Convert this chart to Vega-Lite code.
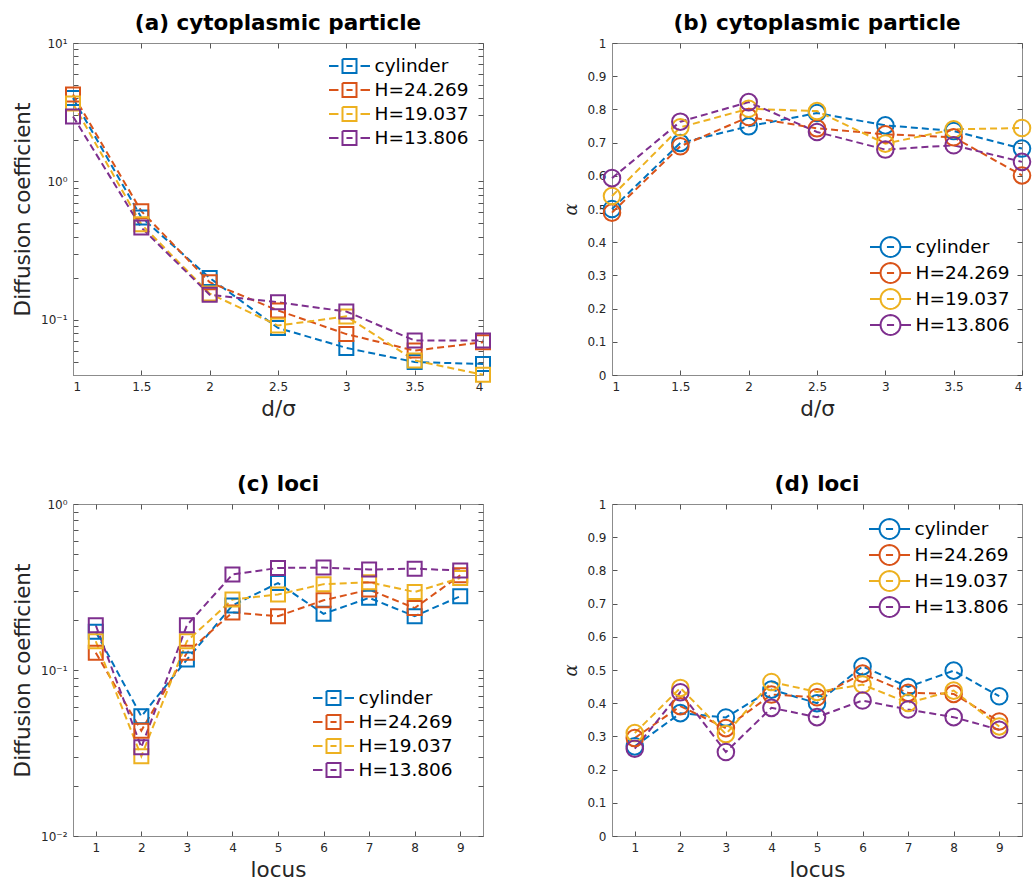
{
  "$schema": "https://vega.github.io/schema/vega-lite/v6.json",
  "padding": {"left": 12, "top": 12, "right": 0, "bottom": 0},
  "background": "white",
  "datasets": {
    "a": [
      {"x": 1, "series": "cylinder", "value": 4.0}, {"x": 1.5, "series": "cylinder", "value": 0.55}, {"x": 2, "series": "cylinder", "value": 0.201}, {"x": 2.5, "series": "cylinder", "value": 0.0875}, {"x": 3, "series": "cylinder", "value": 0.0628}, {"x": 3.5, "series": "cylinder", "value": 0.0496}, {"x": 4, "series": "cylinder", "value": 0.048},
      {"x": 1, "series": "H=24.269", "value": 4.25}, {"x": 1.5, "series": "H=24.269", "value": 0.61}, {"x": 2, "series": "H=24.269", "value": 0.187}, {"x": 2.5, "series": "H=24.269", "value": 0.117}, {"x": 3, "series": "H=24.269", "value": 0.079}, {"x": 3.5, "series": "H=24.269", "value": 0.06}, {"x": 4, "series": "H=24.269", "value": 0.069},
      {"x": 1, "series": "H=19.037", "value": 3.65}, {"x": 1.5, "series": "H=19.037", "value": 0.49}, {"x": 2, "series": "H=19.037", "value": 0.155}, {"x": 2.5, "series": "H=19.037", "value": 0.091}, {"x": 3, "series": "H=19.037", "value": 0.106}, {"x": 3.5, "series": "H=19.037", "value": 0.051}, {"x": 4, "series": "H=19.037", "value": 0.0402},
      {"x": 1, "series": "H=13.806", "value": 2.95}, {"x": 1.5, "series": "H=13.806", "value": 0.464}, {"x": 2, "series": "H=13.806", "value": 0.152}, {"x": 2.5, "series": "H=13.806", "value": 0.134}, {"x": 3, "series": "H=13.806", "value": 0.115}, {"x": 3.5, "series": "H=13.806", "value": 0.071}, {"x": 4, "series": "H=13.806", "value": 0.071}
    ],
    "b": [
      {"x": 1, "series": "cylinder", "value": 0.5}, {"x": 1.5, "series": "cylinder", "value": 0.699}, {"x": 2, "series": "cylinder", "value": 0.749}, {"x": 2.5, "series": "cylinder", "value": 0.789}, {"x": 3, "series": "cylinder", "value": 0.752}, {"x": 3.5, "series": "cylinder", "value": 0.735}, {"x": 4, "series": "cylinder", "value": 0.682},
      {"x": 1, "series": "H=24.269", "value": 0.489}, {"x": 1.5, "series": "H=24.269", "value": 0.689}, {"x": 2, "series": "H=24.269", "value": 0.777}, {"x": 2.5, "series": "H=24.269", "value": 0.743}, {"x": 3, "series": "H=24.269", "value": 0.725}, {"x": 3.5, "series": "H=24.269", "value": 0.716}, {"x": 4, "series": "H=24.269", "value": 0.601},
      {"x": 1, "series": "H=19.037", "value": 0.539}, {"x": 1.5, "series": "H=19.037", "value": 0.746}, {"x": 2, "series": "H=19.037", "value": 0.802}, {"x": 2.5, "series": "H=19.037", "value": 0.795}, {"x": 3, "series": "H=19.037", "value": 0.697}, {"x": 3.5, "series": "H=19.037", "value": 0.74}, {"x": 4, "series": "H=19.037", "value": 0.744},
      {"x": 1, "series": "H=13.806", "value": 0.593}, {"x": 1.5, "series": "H=13.806", "value": 0.763}, {"x": 2, "series": "H=13.806", "value": 0.822}, {"x": 2.5, "series": "H=13.806", "value": 0.732}, {"x": 3, "series": "H=13.806", "value": 0.679}, {"x": 3.5, "series": "H=13.806", "value": 0.692}, {"x": 4, "series": "H=13.806", "value": 0.642}
    ],
    "c": [
      {"x": 1, "series": "cylinder", "value": 0.17}, {"x": 2, "series": "cylinder", "value": 0.0526}, {"x": 3, "series": "cylinder", "value": 0.1155}, {"x": 4, "series": "cylinder", "value": 0.245}, {"x": 5, "series": "cylinder", "value": 0.334}, {"x": 6, "series": "cylinder", "value": 0.218}, {"x": 7, "series": "cylinder", "value": 0.272}, {"x": 8, "series": "cylinder", "value": 0.211}, {"x": 9, "series": "cylinder", "value": 0.278},
      {"x": 1, "series": "H=24.269", "value": 0.127}, {"x": 2, "series": "H=24.269", "value": 0.0431}, {"x": 3, "series": "H=24.269", "value": 0.127}, {"x": 4, "series": "H=24.269", "value": 0.222}, {"x": 5, "series": "H=24.269", "value": 0.211}, {"x": 6, "series": "H=24.269", "value": 0.263}, {"x": 7, "series": "H=24.269", "value": 0.305}, {"x": 8, "series": "H=24.269", "value": 0.236}, {"x": 9, "series": "H=24.269", "value": 0.372},
      {"x": 1, "series": "H=19.037", "value": 0.149}, {"x": 2, "series": "H=19.037", "value": 0.0302}, {"x": 3, "series": "H=19.037", "value": 0.149}, {"x": 4, "series": "H=19.037", "value": 0.266}, {"x": 5, "series": "H=19.037", "value": 0.285}, {"x": 6, "series": "H=19.037", "value": 0.329}, {"x": 7, "series": "H=19.037", "value": 0.338}, {"x": 8, "series": "H=19.037", "value": 0.295}, {"x": 9, "series": "H=19.037", "value": 0.358},
      {"x": 1, "series": "H=13.806", "value": 0.186}, {"x": 2, "series": "H=13.806", "value": 0.0342}, {"x": 3, "series": "H=13.806", "value": 0.186}, {"x": 4, "series": "H=13.806", "value": 0.376}, {"x": 5, "series": "H=13.806", "value": 0.412}, {"x": 6, "series": "H=13.806", "value": 0.414}, {"x": 7, "series": "H=13.806", "value": 0.403}, {"x": 8, "series": "H=13.806", "value": 0.408}, {"x": 9, "series": "H=13.806", "value": 0.397}
    ],
    "d": [
      {"x": 1, "series": "cylinder", "value": 0.27}, {"x": 2, "series": "cylinder", "value": 0.37}, {"x": 3, "series": "cylinder", "value": 0.357}, {"x": 4, "series": "cylinder", "value": 0.441}, {"x": 5, "series": "cylinder", "value": 0.4}, {"x": 6, "series": "cylinder", "value": 0.511}, {"x": 7, "series": "cylinder", "value": 0.449}, {"x": 8, "series": "cylinder", "value": 0.498}, {"x": 9, "series": "cylinder", "value": 0.421},
      {"x": 1, "series": "H=24.269", "value": 0.295}, {"x": 2, "series": "H=24.269", "value": 0.391}, {"x": 3, "series": "H=24.269", "value": 0.325}, {"x": 4, "series": "H=24.269", "value": 0.426}, {"x": 5, "series": "H=24.269", "value": 0.418}, {"x": 6, "series": "H=24.269", "value": 0.489}, {"x": 7, "series": "H=24.269", "value": 0.431}, {"x": 8, "series": "H=24.269", "value": 0.428}, {"x": 9, "series": "H=24.269", "value": 0.345},
      {"x": 1, "series": "H=19.037", "value": 0.31}, {"x": 2, "series": "H=19.037", "value": 0.446}, {"x": 3, "series": "H=19.037", "value": 0.307}, {"x": 4, "series": "H=19.037", "value": 0.464}, {"x": 5, "series": "H=19.037", "value": 0.434}, {"x": 6, "series": "H=19.037", "value": 0.456}, {"x": 7, "series": "H=19.037", "value": 0.401}, {"x": 8, "series": "H=19.037", "value": 0.438}, {"x": 9, "series": "H=19.037", "value": 0.33},
      {"x": 1, "series": "H=13.806", "value": 0.263}, {"x": 2, "series": "H=13.806", "value": 0.433}, {"x": 3, "series": "H=13.806", "value": 0.253}, {"x": 4, "series": "H=13.806", "value": 0.386}, {"x": 5, "series": "H=13.806", "value": 0.358}, {"x": 6, "series": "H=13.806", "value": 0.408}, {"x": 7, "series": "H=13.806", "value": 0.381}, {"x": 8, "series": "H=13.806", "value": 0.358}, {"x": 9, "series": "H=13.806", "value": 0.32}
    ]
  },
  "columns": 2,
  "bounds": "flush",
  "spacing": {"column": 129, "row": 129},
  "resolve": {"scale": {"color": "independent"}, "legend": {"color": "independent"}},
  "concat": [
    {
      "title": "(a) cytoplasmic particle",
      "width": 410, "height": 332,
      "data": {"name": "a"},
      "resolve": {"axis": {"x": "independent", "y": "independent"}},
      "layer": [
        {
          "mark": {"type": "line", "strokeDash": [7, 4], "strokeWidth": 2},
          "encoding": {
            "x": {"field": "x", "type": "quantitative", "scale": {"domain": [1, 4], "nice": false, "zero": false}, "axis": {"orient": "bottom", "title": "d/σ", "values": [1, 1.5, 2, 2.5, 3, 3.5, 4], "format": "~g"}},
            "y": {"field": "value", "type": "quantitative", "scale": {"type": "log", "domain": [0.04, 10], "nice": false}, "axis": {"orient": "left", "title": "Diffusion coefficient", "values": [0.05, 0.06, 0.07, 0.08, 0.09, 0.1, 0.2, 0.3, 0.4, 0.5, 0.6, 0.7, 0.8, 0.9, 1, 2, 3, 4, 5, 6, 7, 8, 9, 10], "labelExpr": "datum.value == 10 ? '10¹' : datum.value == 1 ? '10⁰' : datum.value == 0.1 ? '10⁻¹' : ''", "encoding": {"ticks": {"update": {"x2": {"signal": "abs(log(datum.value)/LN10 - round(log(datum.value)/LN10)) < 0.001 ? 5 : 3"}}}}}},
            "color": {"field": "series", "type": "nominal", "scale": {"domain": ["cylinder", "H=24.269", "H=19.037", "H=13.806"], "range": ["#0072BD", "#D95319", "#EDB120", "#7E2F8E"]}, "legend": {"legendX": 265, "legendY": 11.5, "symbolType": "M-1.95,0H-1.05M1.05,0H1.95M-0.667,-0.667H0.667V0.667H-0.667ZM-0.29,0H0.29"}}
          }
        },
        {
          "mark": {"type": "point", "shape": "square", "filled": false, "size": 196, "strokeWidth": 2, "opacity": 1},
          "encoding": {
            "x": {"field": "x", "type": "quantitative", "axis": {"orient": "top", "title": null, "labels": false, "domain": false, "values": [1, 1.5, 2, 2.5, 3, 3.5, 4]}},
            "y": {"field": "value", "type": "quantitative", "axis": {"orient": "right", "title": null, "labels": false, "domain": false, "values": [0.05, 0.06, 0.07, 0.08, 0.09, 0.1, 0.2, 0.3, 0.4, 0.5, 0.6, 0.7, 0.8, 0.9, 1, 2, 3, 4, 5, 6, 7, 8, 9, 10], "encoding": {"ticks": {"update": {"x2": {"signal": "abs(log(datum.value)/LN10 - round(log(datum.value)/LN10)) < 0.001 ? -5 : -3"}}}}}},
            "color": {"field": "series", "type": "nominal", "legend": {"legendX": 265, "legendY": 11.5, "symbolType": "M-1.95,0H-1.05M1.05,0H1.95M-0.667,-0.667H0.667V0.667H-0.667ZM-0.29,0H0.29"}}
          }
        }
      ]
    },
    {
      "title": "(b) cytoplasmic particle",
      "width": 410, "height": 332,
      "data": {"name": "b"},
      "resolve": {"axis": {"x": "independent", "y": "independent"}},
      "layer": [
        {
          "mark": {"type": "line", "strokeDash": [7, 4], "strokeWidth": 2},
          "encoding": {
            "x": {"field": "x", "type": "quantitative", "scale": {"domain": [1, 4], "nice": false, "zero": false}, "axis": {"orient": "bottom", "title": "d/σ", "values": [1, 1.5, 2, 2.5, 3, 3.5, 4], "format": "~g"}},
            "y": {"field": "value", "type": "quantitative", "scale": {"domain": [0, 1], "nice": false}, "axis": {"orient": "left", "title": "α", "titleFont": "DejaVu Serif", "titleFontStyle": "italic", "titleFontSize": 18, "values": [0, 0.1, 0.2, 0.3, 0.4, 0.5, 0.6, 0.7, 0.8, 0.9, 1], "format": "~g"}},
            "color": {"field": "series", "type": "nominal", "scale": {"domain": ["cylinder", "H=24.269", "H=19.037", "H=13.806"], "range": ["#0072BD", "#D95319", "#EDB120", "#7E2F8E"]}, "legend": {"legendX": 267, "legendY": 192.5, "rowPadding": -5.5, "symbolType": "M-1.95,0H-0.95M0.95,0H1.95M0.95,0L0.9176,0.2459L0.8227,0.475L0.6718,0.6718L0.475,0.8227L0.2459,0.9176L0,0.95L-0.2459,0.9176L-0.475,0.8227L-0.6718,0.6718L-0.8227,0.475L-0.9176,0.2459L-0.95,0L-0.9176,-0.2459L-0.8227,-0.475L-0.6718,-0.6718L-0.475,-0.8227L-0.2459,-0.9176L0,-0.95L0.2459,-0.9176L0.475,-0.8227L0.6718,-0.6718L0.8227,-0.475L0.9176,-0.2459ZM-0.34,0H0.34"}}
          }
        },
        {
          "mark": {"type": "point", "shape": "circle", "filled": false, "size": 275, "strokeWidth": 2, "opacity": 1},
          "encoding": {
            "x": {"field": "x", "type": "quantitative", "axis": {"orient": "top", "title": null, "labels": false, "domain": false, "values": [1, 1.5, 2, 2.5, 3, 3.5, 4]}},
            "y": {"field": "value", "type": "quantitative", "axis": {"orient": "right", "title": null, "labels": false, "domain": false, "values": [0, 0.1, 0.2, 0.3, 0.4, 0.5, 0.6, 0.7, 0.8, 0.9, 1]}},
            "color": {"field": "series", "type": "nominal", "legend": {"legendX": 267, "legendY": 192.5, "rowPadding": -5.5, "symbolType": "M-1.95,0H-0.95M0.95,0H1.95M0.95,0L0.9176,0.2459L0.8227,0.475L0.6718,0.6718L0.475,0.8227L0.2459,0.9176L0,0.95L-0.2459,0.9176L-0.475,0.8227L-0.6718,0.6718L-0.8227,0.475L-0.9176,0.2459L-0.95,0L-0.9176,-0.2459L-0.8227,-0.475L-0.6718,-0.6718L-0.475,-0.8227L-0.2459,-0.9176L0,-0.95L0.2459,-0.9176L0.475,-0.8227L0.6718,-0.6718L0.8227,-0.475L0.9176,-0.2459ZM-0.34,0H0.34"}}
          }
        }
      ]
    },
    {
      "title": "(c) loci",
      "width": 410, "height": 332,
      "data": {"name": "c"},
      "resolve": {"axis": {"x": "independent", "y": "independent"}},
      "layer": [
        {
          "mark": {"type": "line", "strokeDash": [7, 4], "strokeWidth": 2},
          "encoding": {
            "x": {"field": "x", "type": "quantitative", "scale": {"domain": [0.5, 9.5], "nice": false, "zero": false}, "axis": {"orient": "bottom", "title": "locus", "values": [1, 2, 3, 4, 5, 6, 7, 8, 9]}},
            "y": {"field": "value", "type": "quantitative", "scale": {"type": "log", "domain": [0.01, 1], "nice": false}, "axis": {"orient": "left", "title": "Diffusion coefficient", "values": [0.01, 0.02, 0.03, 0.04, 0.05, 0.06, 0.07, 0.08, 0.09, 0.1, 0.2, 0.3, 0.4, 0.5, 0.6, 0.7, 0.8, 0.9, 1], "labelExpr": "datum.value == 1 ? '10⁰' : datum.value == 0.1 ? '10⁻¹' : datum.value == 0.01 ? '10⁻²' : ''", "encoding": {"ticks": {"update": {"x2": {"signal": "abs(log(datum.value)/LN10 - round(log(datum.value)/LN10)) < 0.001 ? 5 : 3"}}}}}},
            "color": {"field": "series", "type": "nominal", "scale": {"domain": ["cylinder", "H=24.269", "H=19.037", "H=13.806"], "range": ["#0072BD", "#D95319", "#EDB120", "#7E2F8E"]}, "legend": {"legendX": 249, "legendY": 182.5, "symbolType": "M-1.95,0H-1.05M1.05,0H1.95M-0.667,-0.667H0.667V0.667H-0.667ZM-0.29,0H0.29"}}
          }
        },
        {
          "mark": {"type": "point", "shape": "square", "filled": false, "size": 196, "strokeWidth": 2, "opacity": 1},
          "encoding": {
            "x": {"field": "x", "type": "quantitative", "axis": {"orient": "top", "title": null, "labels": false, "domain": false, "values": [1, 2, 3, 4, 5, 6, 7, 8, 9]}},
            "y": {"field": "value", "type": "quantitative", "axis": {"orient": "right", "title": null, "labels": false, "domain": false, "values": [0.01, 0.02, 0.03, 0.04, 0.05, 0.06, 0.07, 0.08, 0.09, 0.1, 0.2, 0.3, 0.4, 0.5, 0.6, 0.7, 0.8, 0.9, 1], "encoding": {"ticks": {"update": {"x2": {"signal": "abs(log(datum.value)/LN10 - round(log(datum.value)/LN10)) < 0.001 ? -5 : -3"}}}}}},
            "color": {"field": "series", "type": "nominal", "legend": {"legendX": 249, "legendY": 182.5, "symbolType": "M-1.95,0H-1.05M1.05,0H1.95M-0.667,-0.667H0.667V0.667H-0.667ZM-0.29,0H0.29"}}
          }
        }
      ]
    },
    {
      "title": "(d) loci",
      "width": 410, "height": 332,
      "data": {"name": "d"},
      "resolve": {"axis": {"x": "independent", "y": "independent"}},
      "layer": [
        {
          "mark": {"type": "line", "strokeDash": [7, 4], "strokeWidth": 2},
          "encoding": {
            "x": {"field": "x", "type": "quantitative", "scale": {"domain": [0.5, 9.5], "nice": false, "zero": false}, "axis": {"orient": "bottom", "title": "locus", "values": [1, 2, 3, 4, 5, 6, 7, 8, 9]}},
            "y": {"field": "value", "type": "quantitative", "scale": {"domain": [0, 1], "nice": false}, "axis": {"orient": "left", "title": "α", "titleFont": "DejaVu Serif", "titleFontStyle": "italic", "titleFontSize": 18, "values": [0, 0.1, 0.2, 0.3, 0.4, 0.5, 0.6, 0.7, 0.8, 0.9, 1], "format": "~g"}},
            "color": {"field": "series", "type": "nominal", "scale": {"domain": ["cylinder", "H=24.269", "H=19.037", "H=13.806"], "range": ["#0072BD", "#D95319", "#EDB120", "#7E2F8E"]}, "legend": {"legendX": 266, "legendY": 13.5, "rowPadding": -5.5, "symbolType": "M-1.95,0H-0.95M0.95,0H1.95M0.95,0L0.9176,0.2459L0.8227,0.475L0.6718,0.6718L0.475,0.8227L0.2459,0.9176L0,0.95L-0.2459,0.9176L-0.475,0.8227L-0.6718,0.6718L-0.8227,0.475L-0.9176,0.2459L-0.95,0L-0.9176,-0.2459L-0.8227,-0.475L-0.6718,-0.6718L-0.475,-0.8227L-0.2459,-0.9176L0,-0.95L0.2459,-0.9176L0.475,-0.8227L0.6718,-0.6718L0.8227,-0.475L0.9176,-0.2459ZM-0.34,0H0.34"}}
          }
        },
        {
          "mark": {"type": "point", "shape": "circle", "filled": false, "size": 275, "strokeWidth": 2, "opacity": 1},
          "encoding": {
            "x": {"field": "x", "type": "quantitative", "axis": {"orient": "top", "title": null, "labels": false, "domain": false, "values": [1, 2, 3, 4, 5, 6, 7, 8, 9]}},
            "y": {"field": "value", "type": "quantitative", "axis": {"orient": "right", "title": null, "labels": false, "domain": false, "values": [0, 0.1, 0.2, 0.3, 0.4, 0.5, 0.6, 0.7, 0.8, 0.9, 1]}},
            "color": {"field": "series", "type": "nominal", "legend": {"legendX": 266, "legendY": 13.5, "rowPadding": -5.5, "symbolType": "M-1.95,0H-0.95M0.95,0H1.95M0.95,0L0.9176,0.2459L0.8227,0.475L0.6718,0.6718L0.475,0.8227L0.2459,0.9176L0,0.95L-0.2459,0.9176L-0.475,0.8227L-0.6718,0.6718L-0.8227,0.475L-0.9176,0.2459L-0.95,0L-0.9176,-0.2459L-0.8227,-0.475L-0.6718,-0.6718L-0.475,-0.8227L-0.2459,-0.9176L0,-0.95L0.2459,-0.9176L0.475,-0.8227L0.6718,-0.6718L0.8227,-0.475L0.9176,-0.2459ZM-0.34,0H0.34"}}
          }
        }
      ]
    }
  ],
  "config": {
    "font": "DejaVu Sans",
    "view": {"stroke": "#8c8c8c", "strokeWidth": 1},
    "axis": {
      "grid": false,
      "labelFont": "DejaVu Sans", "labelFontSize": 12, "labelColor": "#262626",
      "titleFont": "DejaVu Sans", "titleFontSize": 21.5, "titleFontWeight": "normal", "titleColor": "#262626",
      "domainColor": "#8c8c8c", "tickColor": "#555555",
      "tickSize": -5, "labelPadding": 11, "titlePadding": 6
    },
    "title": {"font": "DejaVu Sans", "fontSize": 21.5, "fontWeight": "bold", "color": "black", "offset": 3},
    "legend": {
      "orient": "none", "title": null, "padding": 0,
      "labelFont": "DejaVu Sans", "labelFontSize": 18.5, "labelColor": "black", "labelLimit": 300,
      "symbolSize": 441, "symbolStrokeWidth": 2, "symbolFillColor": "transparent", "symbolDash": [100, 0],
      "rowPadding": 1, "labelOffset": 13.5
    }
  }
}
